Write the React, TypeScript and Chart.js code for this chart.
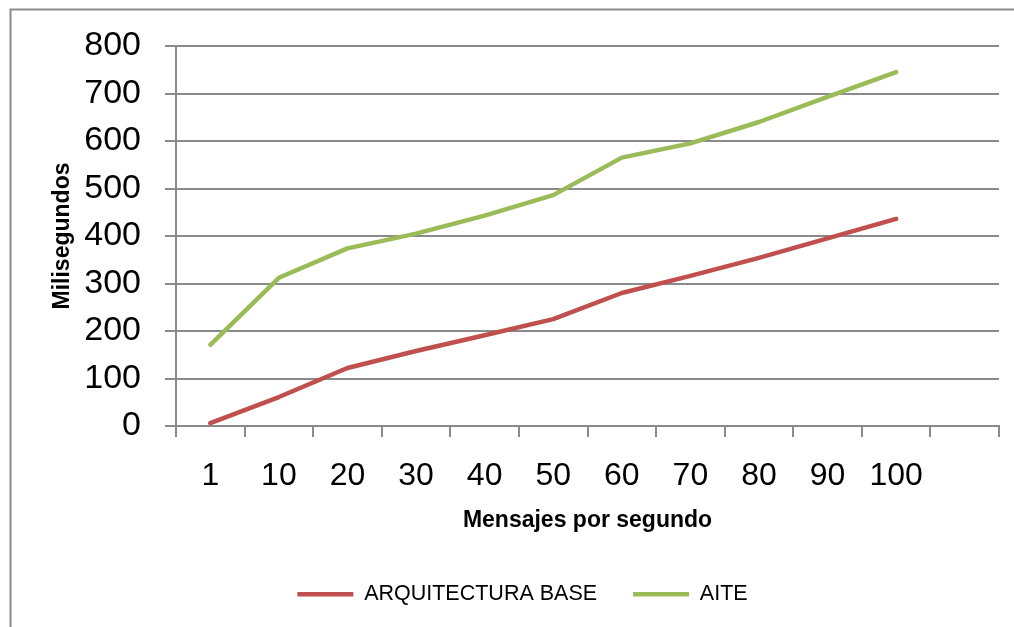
import React, { useEffect, useRef } from "react";
import { Chart, registerables } from "chart.js";

Chart.register(...registerables);

// Message rate categories (last slot is an empty category)
const categories = ["1", "10", "20", "30", "40", "50", "60", "70", "80", "90", "100", ""];
const arquitecturaBase = [6, 61, 122, 158, 191, 225, 280, 316, 354, 395, 436];
const aite = [171, 312, 374, 405, 443, 486, 565, 595, 640, 693, 745];
const yTicks = [0, 100, 200, 300, 400, 500, 600, 700, 800];

const FONT = "'Liberation Sans', Arial, sans-serif";
const GRID = "#8a8a8a";

// Outer frame around the chart
const framePlugin = {
  id: "frame",
  beforeDraw(chart: any) {
    const { ctx } = chart;
    ctx.save();
    ctx.fillStyle = "#ffffff";
    ctx.fillRect(0, 0, chart.width, chart.height);
    ctx.strokeStyle = "#8c8c8c";
    ctx.lineWidth = 2;
    ctx.strokeRect(10.5, 9.5, chart.width + 20, chart.height + 20);
    ctx.restore();
  },
};

export default function App() {
  const ref = useRef<HTMLCanvasElement | null>(null);

  useEffect(() => {
    document.body.style.margin = "0";
    const canvas = ref.current;
    if (!canvas) return;
    const chart = new Chart(canvas, {
      type: "line",
      data: {
        labels: categories,
        datasets: [
          {
            label: "ARQUITECTURA BASE",
            data: arquitecturaBase,
            borderColor: "#C0504D",
            backgroundColor: "#C0504D",
            borderWidth: 4.5,
            borderCapStyle: "round",
            borderJoinStyle: "round",
            pointRadius: 0,
            pointStyle: "line",
            tension: 0,
          },
          {
            label: "AITE",
            data: aite,
            borderColor: "#9BBB59",
            backgroundColor: "#9BBB59",
            borderWidth: 4.5,
            borderCapStyle: "round",
            borderJoinStyle: "round",
            pointRadius: 0,
            pointStyle: "line",
            tension: 0,
          },
        ],
      },
      options: {
        animation: false,
        responsive: false,
        maintainAspectRatio: false,
        layout: { padding: { left: 46, top: 46, right: 15, bottom: 12 } },
        plugins: {
          tooltip: { enabled: false },
          legend: {
            position: "bottom",
            labels: {
              usePointStyle: true,
              pointStyleWidth: 56,
              boxHeight: 21.5,
              padding: 36,
              color: "#000000",
              font: { family: FONT, size: 21.5 },
            },
          },
        },
        scales: {
          x: {
            type: "category",
            offset: true,
            afterFit(scale: any) {
              scale.height = 121.5;
            },
            border: { display: true, color: GRID, width: 2 },
            grid: {
              offset: true,
              drawOnChartArea: false,
              drawTicks: true,
              tickLength: 11,
              color: GRID,
              lineWidth: 2,
            },
            ticks: {
              color: "#000000",
              font: { family: FONT, size: 32 },
              padding: 20,
              maxRotation: 0,
              autoSkip: false,
            },
            title: {
              display: true,
              text: "Mensajes por segundo",
              color: "#000000",
              font: { family: FONT, size: 23, weight: "bold" },
              padding: { top: 0, bottom: 13 },
            },
          },
          y: {
            min: 0,
            max: 800,
            afterFit(scale: any) {
              scale.width = 130;
            },
            afterBuildTicks(scale: any) {
              scale.ticks = yTicks.map((v) => ({ value: v }));
            },
            border: { display: true, color: GRID, width: 2 },
            grid: {
              drawTicks: true,
              tickLength: 11,
              color: GRID,
              lineWidth: 2,
            },
            ticks: {
              color: "#000000",
              font: { family: FONT, size: 34 },
              padding: 24,
            },
            title: {
              display: true,
              text: "Milisegundos",
              color: "#000000",
              font: { family: FONT, size: 23, weight: "bold" },
              padding: { top: 3, bottom: 0 },
            },
          },
        },
      },
      plugins: [framePlugin],
    } as any);
    return () => chart.destroy();
  }, []);

  return (
    <div style={{ width: 1014, height: 627 }}>
      <canvas ref={ref} width={1014} height={627} style={{ display: "block" }} />
    </div>
  );
}
